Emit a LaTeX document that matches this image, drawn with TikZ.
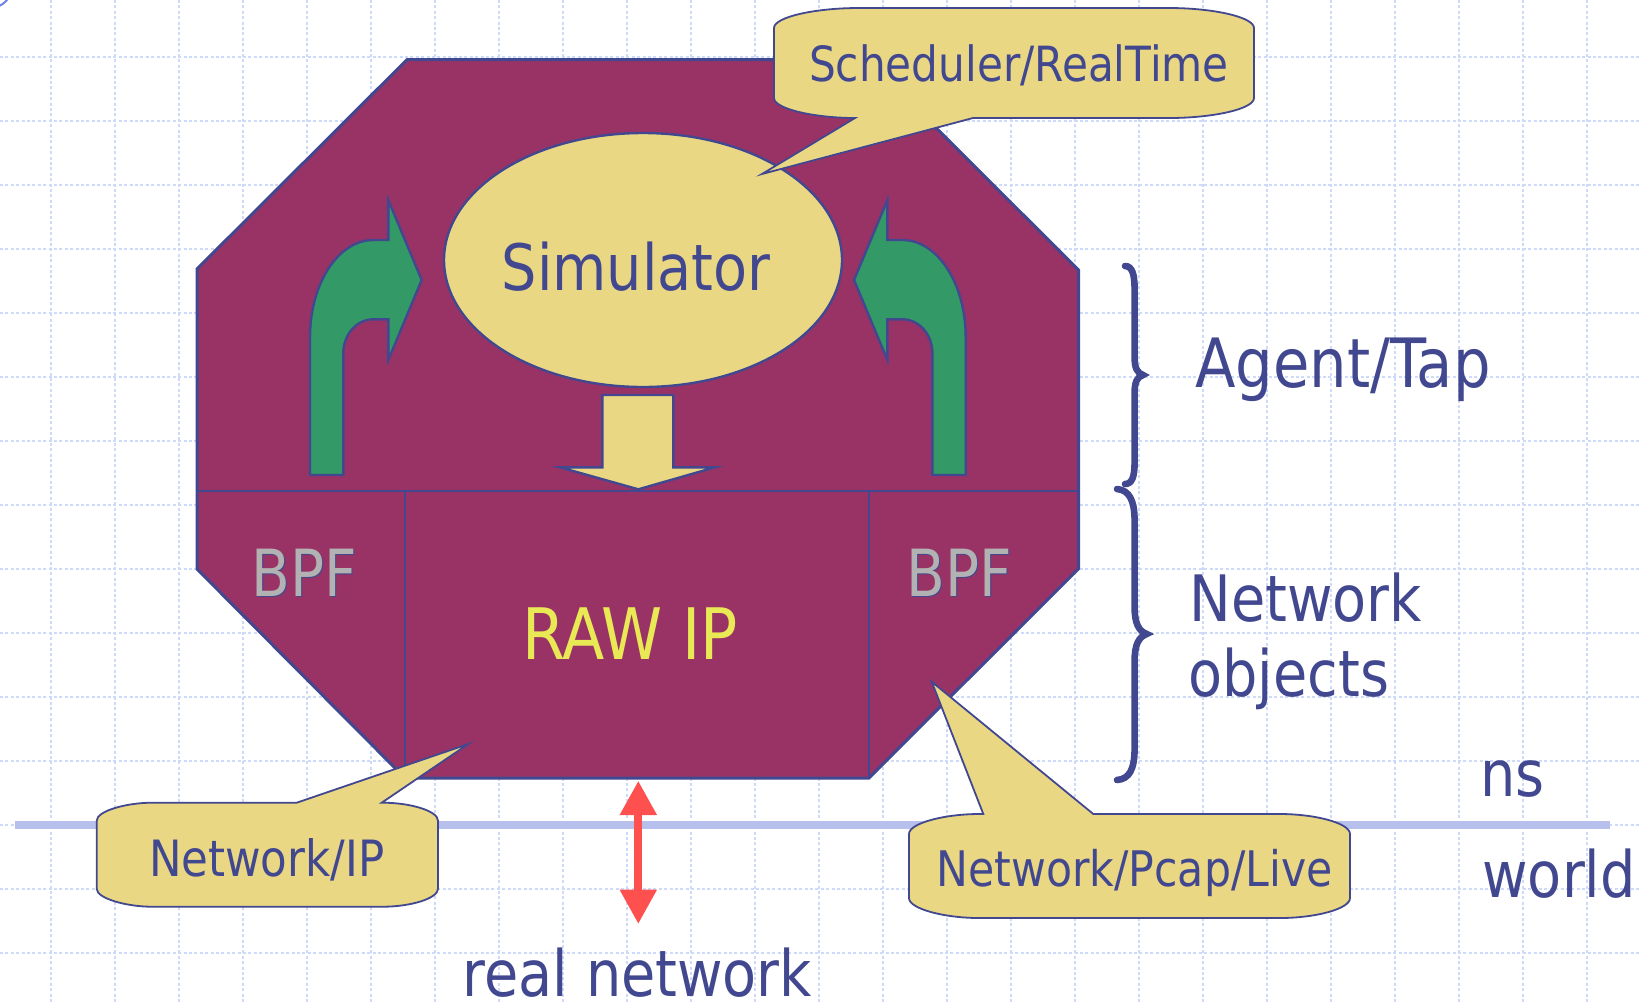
\documentclass[tikz,border=0pt]{standalone}
\usepackage{fontspec}
\setmainfont{DejaVu Sans}[FakeStretch=0.87]
\usetikzlibrary{arrows.meta}
\definecolor{octfill}{RGB}{153,51,102}
\definecolor{grnfill}{RGB}{51,153,102}
\definecolor{ylwfill}{RGB}{234,215,132}
\definecolor{ink}{RGB}{66,72,143}
\definecolor{gridc}{RGB}{206,218,250}
\definecolor{nslinec}{RGB}{183,192,236}
\definecolor{redc}{RGB}{255,80,80}
\definecolor{rawc}{RGB}{233,233,85}
\definecolor{bpfc}{RGB}{178,178,178}
\definecolor{arcc}{RGB}{110,130,235}
\begin{document}
\begin{tikzpicture}[x=0.5pt,y=-0.5pt,
  gridline/.style={draw=gridc, line width=0.75pt, dash pattern=on 1.5pt off 1.2pt},
  nsline/.style={draw=nslinec, line width=4pt},
  octo/.style={fill=octfill, draw=ink, line width=1.5pt, line join=miter},
  divider/.style={draw=ink, line width=1.4pt},
  grnarrow/.style={fill=grnfill, draw=ink, line width=1.2pt, line join=miter},
  ylwshape/.style={fill=ylwfill, draw=ink, line width=1.2pt, line join=miter},
  callout/.style={fill=ylwfill, draw=ink, line width=0.9pt, line join=miter},
  bracepath/.style={draw=ink, line width=3.3pt, line cap=round},
  redarrow/.style={draw=redc, line width=4.15pt, arrows={Triangle[length=17.2pt,width=17.5pt]-Triangle[length=17.2pt,width=17.5pt]}},
  txt/.style={text=ink, inner sep=0pt, anchor=base},
  big/.style={txt, font=\fontsize{32}{38}\selectfont},
  small/.style={txt, font=\fontsize{24.25}{29}\selectfont},
  boxtxt/.style={inner sep=0pt, anchor=base, font=\fontsize{32.5}{38}\selectfont}
]
\useasboundingbox (0,0) rectangle (1642,1003);
\fill[white] (0,0) rectangle (1642,1003);

% grid
\foreach \i in {0,...,24} \draw[gridline] (51+64*\i,0) -- (51+64*\i,1003);
\foreach \j in {0,...,14} \draw[gridline] (0,57+64*\j) -- (1642,57+64*\j);

% small arc at top-left corner
\draw[draw=arcc, line width=1pt] (-10,-14) circle [radius=22];

% ns / world separator
\coordinate (nsA) at (14.7,825);
\coordinate (nsB) at (1609.6,825);
\draw[nsline] (nsA) -- (nsB);

% octagon
\draw[octo] (407,59.7) -- (868,59.7) -- (1078.6,270.2) -- (1078.6,568.6) -- (869,778) -- (405,778) -- (197,569) -- (197,269) -- cycle;
\draw[divider] (197,491) -- (1078.6,491);
\draw[divider] (405,491) -- (405,778);
\draw[divider] (869,491) -- (869,778);

% green curved arrows
\draw[grnarrow] (310,475) -- (310,337) .. controls (310,283.4) and (338.3,240) .. (373.3,240) -- (388.3,240) -- (388.3,200) -- (421.7,280) -- (388.3,360) -- (388.3,319.3) -- (373.3,319.3) .. controls (356.7,319.3) and (343.3,334.5) .. (343.3,353.3) -- (343.3,475) -- cycle;
\begin{scope}[shift={(1275.7,0)}, xscale=-1]
\draw[grnarrow] (310,475) -- (310,337) .. controls (310,283.4) and (338.3,240) .. (373.3,240) -- (388.3,240) -- (388.3,200) -- (421.7,280) -- (388.3,360) -- (388.3,319.3) -- (373.3,319.3) .. controls (356.7,319.3) and (343.3,334.5) .. (343.3,353.3) -- (343.3,475) -- cycle;
\end{scope}

% simulator ellipse
\draw[ylwshape] (643,260) ellipse [x radius=199, y radius=127];
\node[big] (sim) at (636,290) {Simulator};

% yellow down arrow
\draw[ylwshape] (602.3,395) -- (673.3,395) -- (673.3,467.3) -- (715,467.3) -- (638.3,489.3) -- (560,467.3) -- (602.3,467.3) -- cycle;

% box labels
\node[boxtxt, text=ink] (bpfLs) at (305.5,597.5) {BPF};
\node[boxtxt, text=bpfc] (bpfL) at (304.5,596) {BPF};
\node[boxtxt, text=ink] (bpfRs) at (960.5,597.5) {BPF};
\node[boxtxt, text=bpfc] (bpfR) at (959.5,596) {BPF};
\node[boxtxt, text=rawc, font=\fontsize{35.5}{40}\selectfont] (raw) at (630,659) {RAW IP};

% braces
\draw[bracepath] (1125,266) .. controls (1132,266) and (1134.6,274) .. (1134.6,289) -- (1134.6,357) .. controls (1134.6,368) and (1137,373) .. (1143,375) .. controls (1137,377) and (1134.6,382) .. (1134.6,393) -- (1134.6,462) .. controls (1134.6,477) and (1132,484) .. (1125,484);
\draw[bracepath] (1117,489) .. controls (1129,490) and (1134.6,500) .. (1134.6,521) -- (1134.6,607) .. controls (1134.6,624) and (1139,631) .. (1146.7,634) .. controls (1139,637) and (1134.6,644) .. (1134.6,661) -- (1134.6,748) .. controls (1134.6,770) and (1129,779) .. (1117,780);

% right-hand labels
\node[big, anchor=base west, font=\fontsize{34}{40}\selectfont] (agent) at (1195,387.5) {Agent/Tap};
\node[big, anchor=base west] (netobj1) at (1189,621.4) {Network};
\node[big, anchor=base west] (netobj2) at (1188,696.4) {objects};
\node[big, anchor=base west] (ns) at (1480,796) {ns};
\node[big, anchor=base west] (world) at (1482,897) {world};
\node[big] (real) at (637.5,996) {real network};

% red double arrow
\coordinate (rt) at (638.3,780.7);
\coordinate (rb) at (638.3,924);
\draw[redarrow] (rt) -- (rb);

% callouts
\draw[callout] (774,28) .. controls (774,17) and (815,8) .. (859,8) -- (1169,8) .. controls (1213,8) and (1254,17) .. (1254,28) -- (1254,98) .. controls (1254,109) and (1213,118) .. (1169,118) -- (973,118) -- (762,174) -- (855,118) .. controls (815,118) and (774,109) .. (774,98) -- cycle;
\node[small] (sched) at (1019,81.7) {Scheduler/RealTime};

\draw[callout] (96.7,820.7) .. controls (96.7,810.8) and (127,802.7) .. (151.7,802.7) -- (296.7,802.7) -- (468.3,744) -- (381.7,802.7) -- (383,802.7) .. controls (410,802.7) and (438,810.8) .. (438,820.7) -- (438,888.7) .. controls (438,898.6) and (410,906.7) .. (383,906.7) -- (151.7,906.7) .. controls (127,906.7) and (96.7,898.6) .. (96.7,888.7) -- cycle;
\node[small, font=\fontsize{25}{30}\selectfont] (netip) at (266.7,876) {Network/IP};

\draw[callout] (909,834) .. controls (909,823) and (945,814) .. (979,814) -- (983.3,814) -- (931.7,681.7) -- (1093.3,814) -- (1280,814) .. controls (1315,814) and (1350,823) .. (1350,834) -- (1350,898) .. controls (1350,909) and (1315,918) .. (1280,918) -- (979,918) .. controls (945,918) and (909,909) .. (909,898) -- cycle;
\node[small, font=\fontsize{24.5}{29}\selectfont] (pcap) at (1134.5,886.7) {Network/Pcap/Live};
\end{tikzpicture}
\end{document}
